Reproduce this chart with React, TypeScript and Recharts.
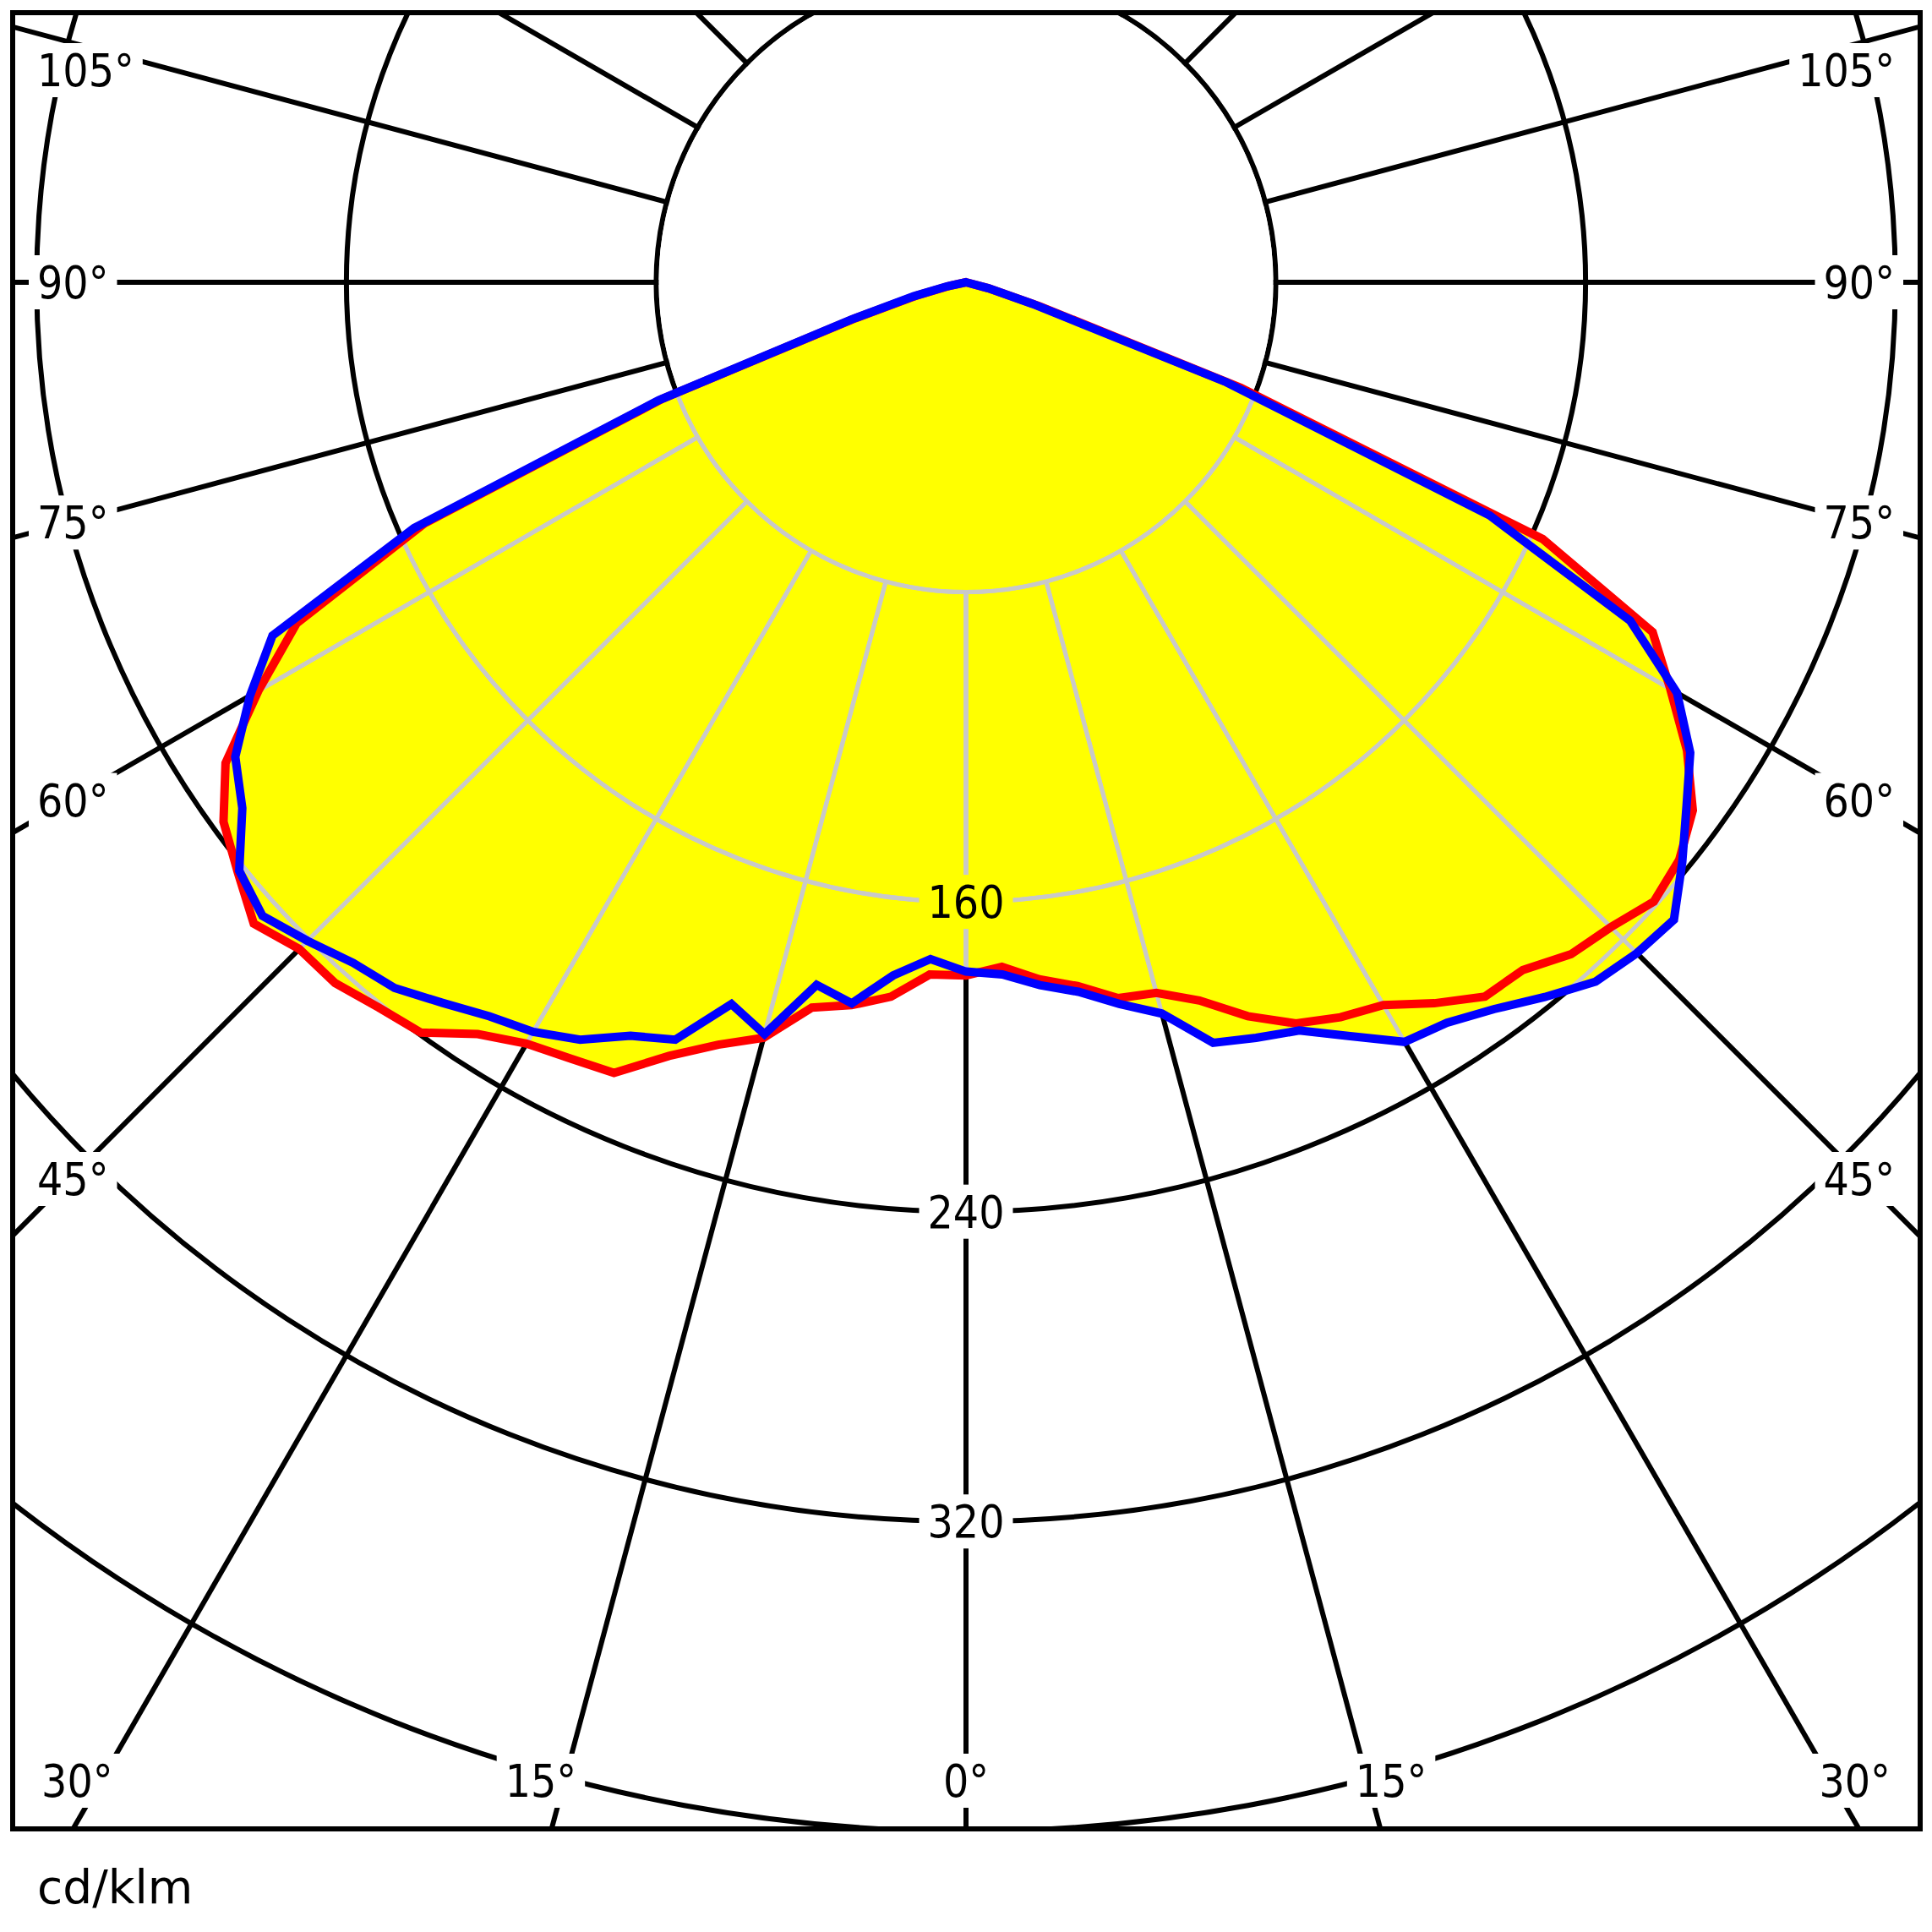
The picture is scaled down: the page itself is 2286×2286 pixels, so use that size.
import React from 'react';
import {
  RadarChart,
  Radar,
  PolarGrid,
  PolarAngleAxis,
  PolarRadiusAxis,
} from 'recharts';

// gamma angles of the measured data, one value every 3°, from 0° (down) to 90°.
// Past 90° both planes are 0 cd/klm, so the curves sit in the centre there.
const GAMMA_STEP = 3;
const GAMMA = [
  0, 3, 6, 9, 12, 15, 18, 21, 24, 27, 30, 33, 36, 39, 42, 45, 48, 51, 54, 57,
  60, 63, 66, 69, 72, 75, 78, 81, 84, 87, 90,
];

// C0 - C180 plane (red), right half = C0, left half = C180
const RED_C0 = [
  179, 177, 181, 184, 189, 190, 195, 203, 209.5, 213, 215.5, 222, 228, 228.5,
  233.5, 235.5, 239, 237, 232, 222, 210, 199, 163, 76, 20, 6, 0, 0, 0, 0, 0,
];
const RED_C180 = [
  179, 179, 185.5, 189, 191.5, 202, 207, 214, 223.5, 225, 227, 231.5, 239.5,
  241, 243.5, 243.5, 247.5, 242, 237, 228, 211, 194, 153, 84, 30, 13, 4, 0, 0,
  0, 0,
];

// C90 - C270 plane (blue), right half = C90, left half = C270
const BLUE_C90 = [
  178, 179, 182.5, 185.5, 190.5, 195.5, 206.5, 209, 211.5, 218.5, 226.5, 228,
  232, 237.5, 243, 245, 246, 238, 230, 223, 212, 192.5, 148, 72, 18, 6, 0, 0, 0,
  0, 0,
];
const BLUE_C270 = [
  178, 175, 180, 188.5, 185.5, 201, 196, 209.5, 213, 219.5, 223.5, 226, 230,
  234.5, 236.5, 240.5, 244.5, 241.5, 231, 225, 213.5, 201, 156, 85, 31, 14, 5,
  0, 0, 0, 0,
];

// grid
const RING_VALUES = [80, 160, 240, 320, 400, 480];
const RING_LABELS = [160, 240, 320];
const SPOKE_GAMMAS = [0, 15, 30, 45, 60, 75, 90, 105, 120, 135, 150, 165, 180];
const ANGLE_LABELS = [0, 15, 30, 45, 60, 75, 90, 105];
const UNIT = 'cd/klm';

// layout (page pixels)
const PAGE = 2286;
const FRAME = { x: 15, y: 15, w: 2257, h: 2149 };
const CX = 1143;
const CY = 334;
const K = 4.582; // px per cd/klm
const R_MAX = 480;
const OUTER = R_MAX * K;
const FS = 53;
const FONT = "'DejaVu Sans Condensed', 'Liberation Sans', sans-serif";

const YELLOW = '#ffff00';
const LIGHT = '#c9c9c9';
const GRID_W = 6;

// full circle, clockwise from the top: right half (C0/C90) then left half (C180/C270)
const valueAt = (arr: number[], g: number) => arr[g / GAMMA_STEP] ?? 0;
const rows: { key: string; red: number; blue: number }[] = [];
for (let g = 180; g > 0; g -= GAMMA_STEP) {
  rows.push({ key: `R${g}`, red: valueAt(RED_C0, g), blue: valueAt(BLUE_C90, g) });
}
for (let g = 0; g < 180; g += GAMMA_STEP) {
  rows.push({ key: `L${g}`, red: valueAt(RED_C180, g), blue: valueAt(BLUE_C270, g) });
}

// recharts angle of a spoke (0 = right, counter-clockwise)
const spokeAngles = SPOKE_GAMMAS.flatMap((g) => [g - 90, -90 - g]);

const toXY = (cx: number, cy: number, r: number, deg: number) => ({
  x: cx + r * Math.cos((-deg * Math.PI) / 180),
  y: cy + r * Math.sin((-deg * Math.PI) / 180),
});

// light grid that shows through the yellow area
const lightGrid = (cx: number, cy: number) => (
  <g stroke={LIGHT} strokeWidth={5} fill="none">
    {RING_VALUES.map((v) => (
      <circle key={`c${v}`} cx={cx} cy={cy} r={v * K} />
    ))}
    {spokeAngles.map((a, i) => {
      const p1 = toXY(cx, cy, RING_VALUES[0] * K, a);
      const p2 = toXY(cx, cy, OUTER, a);
      return <line key={`s${i}`} x1={p1.x} y1={p1.y} x2={p2.x} y2={p2.y} />;
    })}
  </g>
);

const fillShape =
  (clipId: string, first: boolean, gridClips: string[]) => (props: any) => {
    const pts: any[] = props.points || [];
    if (!pts.length) return <g />;
    const cx = pts[0].cx;
    const cy = pts[0].cy;
    const poly = pts.map((p) => `${p.x},${p.y}`).join(' ');
    return (
      <g>
        <defs>
          <clipPath id={clipId}>
            <polygon points={poly} />
          </clipPath>
        </defs>
        {first && (
          <circle
            cx={cx}
            cy={cy}
            r={RING_VALUES[0] * K - GRID_W / 2}
            fill="#fff"
          />
        )}
        <polygon points={poly} fill={YELLOW} stroke="none" />
        {gridClips.map((id) => (
          <g key={id} clipPath={`url(#${id})`}>
            {lightGrid(cx, cy)}
          </g>
        ))}
      </g>
    );
  };

const textWidth = (s: string) =>
  s.split('').reduce((w, ch) => w + (ch === '°' ? 0.45 : 0.572) * FS, 0);

function angleLabelPos(g: number, side: 'L' | 'R' | 'C') {
  const insetX = 82;
  const bottomY = 2107;
  const topY = 83;
  if (side === 'C') return { x: CX, y: bottomY, anchor: 'middle' };
  const sign = side === 'L' ? -1 : 1;
  const t = Math.tan((g * Math.PI) / 180);
  let y = CY + (CX - insetX) / t;
  if (t > 0 && y > bottomY) {
    const x = CX + sign * ((bottomY - CY) * t + 28);
    return { x, y: bottomY, anchor: 'middle' };
  }
  y = Math.max(y, topY);
  return {
    x: side === 'L' ? 44 : 2242,
    y,
    anchor: side === 'L' ? 'start' : 'end',
  };
}

function BoxLabel({
  x,
  y,
  text,
  anchor,
  bg,
}: {
  x: number;
  y: number;
  text: string;
  anchor: string;
  bg: string;
}) {
  const w = textWidth(text);
  const pad = 10;
  const x0 = anchor === 'start' ? x : anchor === 'end' ? x - w : x - w / 2;
  return (
    <g>
      <rect x={x0 - pad} y={y - 32} width={w + pad * 2} height={64} fill={bg} />
      <text
        x={x}
        y={y + 19}
        textAnchor={anchor as any}
        fontFamily={FONT}
        fontSize={FS}
        fill="#000"
      >
        {text}
      </text>
    </g>
  );
}

export default function App() {
  const centreValue = Math.min(RED_C0[0], RED_C180[0], BLUE_C90[0], BLUE_C270[0]);

  return (
    <div
      style={{
        position: 'absolute',
        left: 0,
        top: 0,
        width: PAGE,
        height: PAGE,
        background: '#fff',
      }}
    >
      <div
        style={{
          position: 'absolute',
          left: FRAME.x,
          top: FRAME.y,
          width: FRAME.w,
          height: FRAME.h,
          overflow: 'hidden',
        }}
      >
        <RadarChart
          width={FRAME.w}
          height={FRAME.h}
          data={rows}
          cx={CX - FRAME.x}
          cy={CY - FRAME.y}
          innerRadius={0}
          outerRadius={OUTER}
          startAngle={90}
          endAngle={-270}
          margin={{ top: 0, right: 0, bottom: 0, left: 0 }}
        >
          <PolarGrid
            gridType="circle"
            polarAngles={spokeAngles}
            polarRadius={RING_VALUES.map((v) => v * K)}
            stroke="#000"
            strokeWidth={GRID_W}
            strokeOpacity={1}
          />
          <PolarAngleAxis
            dataKey="key"
            tick={false}
            tickLine={false}
            axisLine={false}
          />
          <PolarRadiusAxis
            domain={[0, R_MAX]}
            tickCount={7}
            tick={false}
            axisLine={false}
          />
          <Radar
            dataKey="red"
            stroke="none"
            fill={YELLOW}
            dot={false}
            isAnimationActive={false}
            shape={fillShape('clip-red', true, [])}
          />
          <Radar
            dataKey="blue"
            stroke="none"
            fill={YELLOW}
            dot={false}
            isAnimationActive={false}
            shape={fillShape('clip-blue', false, ['clip-red', 'clip-blue'])}
          />
          <Radar
            dataKey="red"
            stroke="#ff0000"
            strokeWidth={10}
            fill="none"
            fillOpacity={0}
            dot={false}
            isAnimationActive={false}
          />
          <Radar
            dataKey="blue"
            stroke="#0000ff"
            strokeWidth={10}
            fill="none"
            fillOpacity={0}
            dot={false}
            isAnimationActive={false}
          />
        </RadarChart>
      </div>

      <svg
        width={PAGE}
        height={PAGE}
        style={{ position: 'absolute', left: 0, top: 0, pointerEvents: 'none' }}
      >
        {RING_LABELS.map((v) => (
          <BoxLabel
            key={`r${v}`}
            x={CX}
            y={CY + v * K}
            text={String(v)}
            anchor="middle"
            bg={v < centreValue ? YELLOW : '#fff'}
          />
        ))}
        {ANGLE_LABELS.flatMap((g) =>
          (g === 0 ? (['C'] as const) : (['L', 'R'] as const)).map((side) => {
            const p = angleLabelPos(g, side);
            return (
              <BoxLabel
                key={`a${side}${g}`}
                x={p.x}
                y={p.y}
                text={`${g}°`}
                anchor={p.anchor}
                bg="#fff"
              />
            );
          })
        )}
        <rect
          x={FRAME.x}
          y={FRAME.y}
          width={FRAME.w}
          height={FRAME.h}
          fill="none"
          stroke="#000"
          strokeWidth={6}
        />
        <text
          x={44}
          y={2252}
          fontFamily="'DejaVu Sans', sans-serif"
          fontSize={55}
          fill="#000"
        >
          {UNIT}
        </text>
      </svg>
    </div>
  );
}
